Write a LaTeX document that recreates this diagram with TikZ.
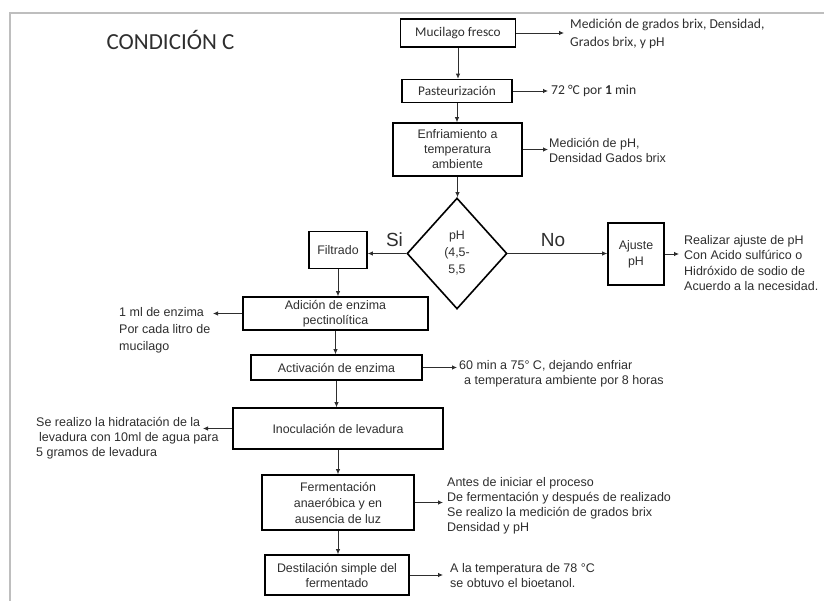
\documentclass[tikz,border=0pt]{standalone}
\usepackage{fontspec}
\setmainfont{Liberation Sans}
\newfontfamily\calib{Carlito}
\usetikzlibrary{arrows.meta,shapes.geometric}
\definecolor{txt}{HTML}{2E2E2E}
\definecolor{framec}{HTML}{BEBEBE}
\tikzset{
  boxn/.style={draw=black, line width=1.6pt, inner sep=0pt, align=center, text=txt,
    font=\fontsize{12.4}{15}\selectfont},
  cbox/.style={boxn, font=\calib\fontsize{13.3}{15}\selectfont},
  arr/.style={draw=txt, line width=0.8pt, -{Latex[length=5pt,width=4.5pt]}},
  lbl/.style={inner sep=0pt, align=left, text=txt, font=\fontsize{12.5}{15}\selectfont},
  clbl/.style={lbl, font=\calib\fontsize{13.6}{18}\selectfont},
  big/.style={inner sep=0pt, text=txt, font=\fontsize{19}{22}\selectfont},
}
\begin{document}
\begin{tikzpicture}[x=1pt,y=-1pt]
\useasboundingbox (0,0) rectangle (824,601);
\draw[framec, line width=1.5pt] (10,601) -- (10,13) -- (824,13);

\node[inner sep=0pt, text=txt, font=\calib\fontsize{23}{26}\selectfont] (title) at (170.5,40) {CONDICIÓN C};

% main column
\node[cbox, minimum width=115pt, minimum height=28pt] (muc) at (458,33) {Mucilago fresco};
\node[cbox, minimum width=110pt, minimum height=23pt] (past) at (457,91) {Pasteurización};
\node[boxn, minimum width=129pt, minimum height=53pt] (enf) at (457.5,149.5) {Enfriamiento a\\temperatura\\ambiente};
\node[draw=black, line width=1.6pt, shape=diamond, minimum width=100pt, minimum height=111pt, inner sep=0pt,
  align=center, text=txt, font=\fontsize{12.4}{17}\selectfont] (dia) at (457,253.5) {pH\\(4,5-\\5,5};
\node[boxn, minimum width=58pt, minimum height=37pt] (filt) at (338,250) {Filtrado};
\node[boxn, minimum width=56pt, minimum height=62pt, font=\fontsize{12.4}{16}\selectfont] (aj) at (636,254) {Ajuste\\pH};
\node[boxn, minimum width=185pt, minimum height=33pt] (adi) at (335.5,313.5) {Adición de enzima\\pectinolítica};
\node[boxn, minimum width=171pt, minimum height=25pt] (act) at (336.5,367.5) {Activación de enzima};
\node[boxn, minimum width=210pt, minimum height=41pt] (ino) at (338,428.5) {Inoculación de levadura};
\node[boxn, minimum width=152pt, minimum height=55pt, font=\fontsize{12.4}{16}\selectfont] (fer) at (338,502.5) {Fermentación\\anaeróbica y en\\ausencia de luz};
\node[boxn, minimum width=144pt, minimum height=40pt] (des) at (337,575) {Destilación simple del\\fermentado};

\node[big] (si) at (394.5,240) {Si};
\node[big] (no) at (553,240) {No};

% side labels
\node[clbl, anchor=west] (mucT) at (570,34) {Medición de grados brix, Densidad,\\Grados brix, y pH};
\node[clbl, anchor=west] (pastT) at (551,91) {72 °C por \textbf{1} min};
\node[lbl, anchor=west] (enfT) at (549,150) {Medición de pH,\\Densidad Gados brix};
\node[lbl, anchor=west, font=\fontsize{12.5}{15.3}\selectfont] (ajT) at (684,263) {Realizar ajuste de pH\\Con Acido sulfúrico o\\Hidróxido de sodio de\\Acuerdo a la necesidad.};
\node[lbl, anchor=west, font=\fontsize{12.5}{17}\selectfont] (adiT) at (119,330) {1 ml de enzima\\Por cada litro de\\mucilago};
\node[lbl, anchor=west] (actT) at (459,374) {60 min a 75° C, dejando enfriar\\\hspace*{5pt}a temperatura ambiente por 8 horas};
\node[lbl, anchor=west] (inoT) at (36,438) {Se realizo la hidratación de la\\\hspace*{3pt}levadura con 10ml de agua para\\5 gramos de levadura};
\node[lbl, anchor=west] (ferT) at (447,505.5) {Antes de iniciar el proceso\\De fermentación y después de realizado\\Se realizo la medición de grados brix\\Densidad y pH};
\node[lbl, anchor=west] (desT) at (450,575.5) {A la temperatura de 78 °C\\se obtuvo el bioetanol.};

% arrow tips
\coordinate (mucTip) at (564,33);
\coordinate (pastTip) at (548,91);
\coordinate (enfTip) at (548,151);
\coordinate (ajTip) at (679,254);
\coordinate (adiTip) at (213,313.5);
\coordinate (actTip) at (457,367.5);
\coordinate (inoTip) at (203,428.5);
\coordinate (ferTip) at (443,502.5);
\coordinate (desTip) at (443,575);

% vertical connectors
\draw[arr] (muc.south) -- (muc.south |- past.north);
\draw[arr] (past.south) -- (past.south |- enf.north);
\draw[arr] (enf.south) -- (enf.south |- dia.north);
\draw[arr] (filt.south) -- (filt.south |- adi.north);
\draw[arr] (adi.south) -- (adi.south |- act.north);
\draw[arr] (act.south) -- (act.south |- ino.north);
\draw[arr] (ino.south) -- (ino.south |- fer.north);
\draw[arr] (fer.south) -- (fer.south |- des.north);

% decision branches
\draw[arr] (dia.west) -- (dia.west -| filt.east);
\draw[arr] (dia.east) -- (dia.east -| aj.west);

% side arrows
\draw[arr] (muc.east) -- (mucTip);
\draw[arr] (past.east) -- (pastTip);
\draw[arr] (enf.east) -- (enf.east -| enfTip);
\draw[arr] (aj.east) -- (ajTip);
\draw[arr] (adi.west) -- (adiTip);
\draw[arr] (act.east) -- (actTip);
\draw[arr] (ino.west) -- (inoTip);
\draw[arr] (fer.east) -- (ferTip);
\draw[arr] (des.east) -- (desTip);
\end{tikzpicture}
\end{document}
